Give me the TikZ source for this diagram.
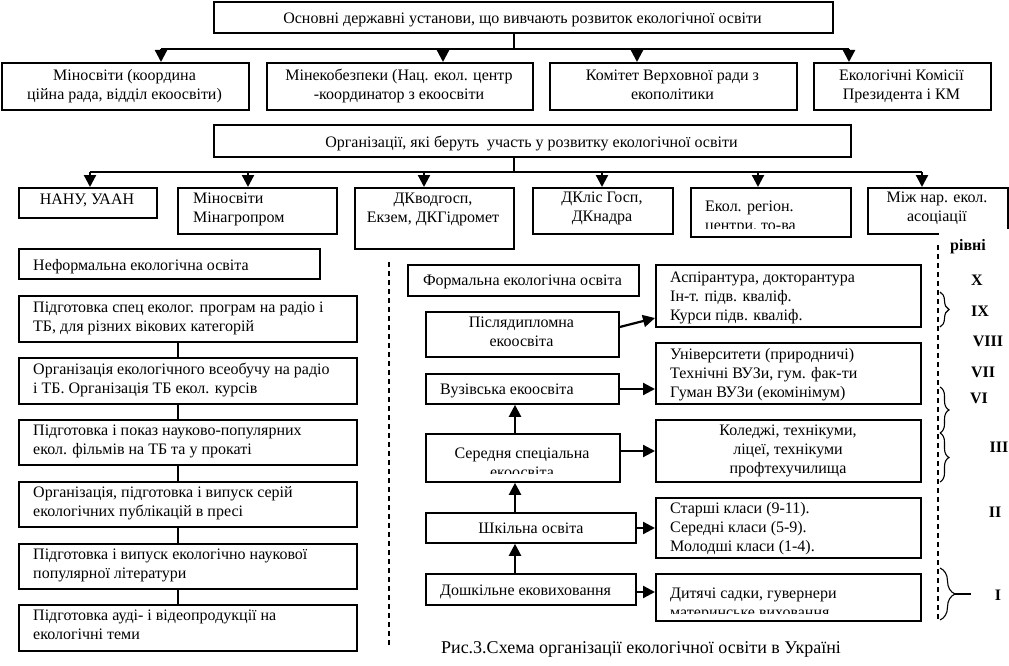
\documentclass[tikz,border=0pt]{standalone}
\usepackage{fontspec}
\setmainfont{Liberation Serif}
\usetikzlibrary{arrows.meta,decorations.pathreplacing}
\tikzset{
  box/.style={draw, line width=1.8pt, anchor=north west, inner sep=0pt},
  txt/.style={inner sep=0pt, font=\fontsize{16}{19}\selectfont, align=center,
    execute at begin node=\strut, execute at end node=\strut},
  ltxt/.style={txt, align=left, anchor=west},
  arr/.style={line width=2.2pt, -{Triangle[length=12pt,width=12pt]}},
  bus/.style={line width=2pt},
  lvl/.style={font=\fontsize{16}{19}\selectfont\bfseries, inner sep=0pt,
    execute at begin node=\strut},
  dashline/.style={line width=1.2pt, dash pattern=on 5pt off 4pt},
  brc/.style={decorate, decoration={brace, amplitude=9pt}, line width=1.1pt},
}
\newcommand{\bx}[5]{\node[box, minimum width={#4-#2}, minimum height={#5-#3}] (#1) at (#2,#3) {};}
\begin{document}
\begin{tikzpicture}[x=1pt,y=-1pt]
\useasboundingbox[fill=white] (0,0) rectangle (1009,666);

% ---------- top level ----------
\bx{top}{213}{1}{832}{32}
\node[txt] (ttop) at (522.5,19.5) {Основні державні установи, що вивчають розвиток екологічної освіти};
\bx{m1}{1}{62}{248}{109}
\bx{m2}{266}{62}{532}{109}
\bx{m3}{549}{62}{796}{109}
\bx{m4}{813}{62}{990}{109}
\node[txt] (tm1) at (124.5,87.5) {Міносвіти (координа\\ційна рада, відділ екоосвіти)};
\node[txt] (tm2) at (399,87.5) {Мінекобезпеки (Нац. екол. центр\\-координатор з екоосвіти};
\node[txt] (tm3) at (672.5,87.5) {Комітет Верховної ради з\\екополітики};
\node[txt] (tm4) at (901.5,87.5) {Екологічні Комісії\\Президента і КМ};
\coordinate (s1) at (514,49);
\coordinate (a1) at (161,49);
\coordinate (a2) at (443,49);
\coordinate (a3) at (637,49);
\coordinate (a4) at (849,49);
\draw[bus] (top.south -| s1) -- (s1);
\draw[bus] (a1) -- (a4);
\draw[arr] (a1) -- (a1 |- m1.north);
\draw[arr] (a2) -- (a2 |- m2.north);
\draw[arr] (a3) -- (a3 |- m3.north);
\draw[arr] (a4) -- (a4 |- m4.north);

% ---------- organisations ----------
\bx{org}{213}{124}{850}{156}
\node[txt] (torg) at (531.5,143.5) {Організації, які беруть\ \ участь у розвитку екологічної освіти};
\bx{o1}{18}{187}{156}{217}
\bx{o2}{177}{187}{336}{233}
\bx{o3}{354}{187}{513}{248}
\bx{o4}{532}{187}{672}{233}
\bx{o5}{690}{187}{850}{236}
\bx{o6}{867}{187}{1007}{233}
\fill[white] (939,228.5) rectangle (1009,240);
\node[txt] (to1) at (87,200.5) {НАНУ, УААН};
\node[ltxt] (to2) at (193,211) {Міносвіти\\Мінагропром};
\node[txt] (to3) at (433,211) {ДКводгосп,\\Екзем, ДКГідромет};
\node[txt] (to4) at (602,210) {ДКліс Госп,\\ДКнадра};
\begin{scope}
  \clip (690,187) rectangle (850,228.5);
  \node[ltxt] (to5) at (705,218.5) {Екол. регіон.\\центри, то-ва};
\end{scope}
\node[txt] (to6) at (937,210) {Між нар. екол.\\асоціації};
\coordinate (s2) at (514,172);
\coordinate (b1) at (90,172);
\coordinate (b2) at (248,172);
\coordinate (b3) at (424,172);
\coordinate (b4) at (602,172);
\coordinate (b5) at (758,172);
\coordinate (b6) at (922,172);
\draw[bus] (org.south -| s2) -- (s2);
\draw[bus] (b1) -- (b6);
\draw[arr] (b1) -- (b1 |- o1.north);
\draw[arr] (b2) -- (b2 |- o2.north);
\draw[arr] (b3) -- (b3 |- o3.north);
\draw[arr] (b4) -- (b4 |- o4.north);
\draw[arr] (b5) -- (b5 |- o5.north);
\draw[arr] (b6) -- (b6 |- o6.north);

% ---------- informal column ----------
\bx{nf}{18}{248}{319}{278}
\node[ltxt] (tnf) at (33,266.5) {Неформальна екологічна освіта};
\bx{n1}{18}{295}{356}{341}
\bx{n2}{18}{357}{356}{403}
\bx{n3}{18}{419}{356}{464}
\bx{n4}{18}{481}{356}{526}
\bx{n5}{18}{543}{356}{588}
\bx{n6}{18}{604}{356}{650}
\node[ltxt] (tn1) at (33,319.5) {Підготовка спец еколог. програм на радіо і\\ТБ, для різних вікових категорій};
\node[ltxt] (tn2) at (33,381) {Організація екологічного всеобучу на радіо\\і ТБ. Організація ТБ екол. курсів};
\node[ltxt] (tn3) at (33,442.5) {Підготовка і показ науково-популярних\\екол. фільмів на ТБ та у прокаті};
\node[ltxt] (tn4) at (33,504) {Організація, підготовка і випуск серій\\екологічних публікацій в пресі};
\node[ltxt] (tn5) at (33,566.5) {Підготовка і випуск екологічно наукової\\популярної літератури};
\node[ltxt] (tn6) at (33,628) {Підготовка ауді- і відеопродукції на\\екологічні теми};
\coordinate (cx) at (178,0);
\draw[bus] (n1.south -| cx) -- (n2.north -| cx);
\draw[bus] (n2.south -| cx) -- (n3.north -| cx);
\draw[bus] (n3.south -| cx) -- (n4.north -| cx);
\draw[bus] (n4.south -| cx) -- (n5.north -| cx);
\draw[bus] (n5.south -| cx) -- (n6.north -| cx);

\draw[dashline] (389,262) -- (389,647);

% ---------- formal column ----------
\bx{fm}{407}{264}{638}{295}
\node[txt] (tfm) at (522.5,282) {Формальна екологічна освіта};
\bx{post}{425}{311}{618}{356}
\bx{vuz}{425}{373}{618}{403}
\bx{sered}{425}{433}{619}{481}
\bx{shk}{425}{512}{635}{542}
\bx{dosh}{425}{573}{635}{604}
\node[txt] (tpost) at (521.5,335) {Післядипломна\\екоосвіта};
\node[ltxt] (tvuz) at (440,391) {Вузівська екоосвіта};
\begin{scope}
  \clip (425,433) rectangle (619,473.5);
  \node[txt] (tsered) at (522,465.5) {Середня спеціальна\\екоосвіта};
\end{scope}
\node[txt] (tshk) at (531,530) {Шкільна освіта};
\node[ltxt] (tdosh) at (440,592) {Дошкільне ековиховання};

\bx{asp}{655}{264}{920}{326}
\bx{univ}{655}{342}{920}{403}
\bx{kol}{655}{419}{920}{481}
\bx{star}{655}{497}{920}{557}
\bx{dyt}{655}{573}{920}{620}
\node[ltxt] (tasp) at (670,299) {Аспірантура, докторантура\\Ін-т. підв. кваліф.\\Курси підв. кваліф.};
\node[ltxt] (tuniv) at (670,375.5) {Університети (природничі)\\Технічні ВУЗи, гум. фак-ти\\Гуман ВУЗи (екомінімум)};
\node[txt] (tkol) at (788,452) {Коледжі, технікуми,\\ліцеї, технікуми\\профтехучилища};
\node[ltxt] (tstar) at (670,530) {Старші класи (9-11).\\Середні класи (5-9).\\Молодші класи (1-4).};
\begin{scope}
  \clip (655,573) rectangle (920,613);
  \node[ltxt] (tdyt) at (670,605.5) {Дитячі садки, гувернери\\материнське виховання};
\end{scope}

\draw[arr] (post.east |- 0,327) -- (asp.west |- 0,318);
\draw[arr] (vuz.east |- 0,389) -- (univ.west |- 0,389);
\draw[arr] (sered.east |- 0,451) -- (kol.west |- 0,451);
\draw[arr] (shk.east |- 0,528) -- (star.west |- 0,528);
\draw[arr] (dosh.east |- 0,592) -- (dyt.west |- 0,592);
\coordinate (ux) at (515,0);
\draw[arr] (dosh.north -| ux) -- (shk.south -| ux);
\draw[arr] (shk.north -| ux) -- (sered.south -| ux);
\draw[arr] (sered.north -| ux) -- (vuz.south -| ux);

% ---------- levels ----------
\draw[dashline] (938,245) -- (938,620);
\node[lvl] (lr) at (968,247) {рівні};
\node[lvl] (l10) at (977,282) {X};
\node[lvl] (l9) at (980,313) {IX};
\node[lvl] (l8) at (988,343) {VIII};
\node[lvl] (l7) at (983,374) {VII};
\node[lvl] (l6) at (979,400) {VI};
\node[lvl] (l3) at (999,449) {III};
\node[lvl] (l2) at (995,514) {II};
\node[lvl] (l1) at (998,597) {I};
\draw[brc] (940,292) -- (940,327);
\draw[brc] (940,387) -- (940,433);
\draw[brc] (940,433) -- (940,482);
\draw[brc, decoration={brace, amplitude=15pt}] (940,568) -- (940,620);
\draw[line width=1.1pt] (955,594) -- (971,594);

% ---------- caption ----------
\node[txt, font=\fontsize{18}{21}\selectfont] (cap) at (641,649) {Рис.3.Схема організації екологічної освіти в Україні};
\end{tikzpicture}
\end{document}
